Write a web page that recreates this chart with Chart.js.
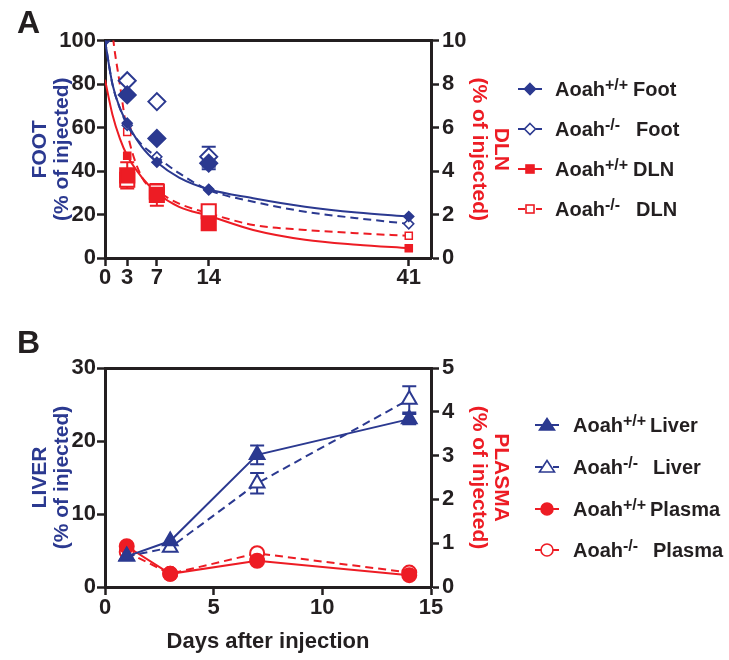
<!DOCTYPE html>
<html>
<head>
<meta charset="utf-8">
<title>Aoah clearance</title>
<script src="https://cdn.jsdelivr.net/npm/chart.js@4.4.1/dist/chart.umd.min.js"></script>
<style>
  body { margin: 0; background: #fff; }
  #page { position: relative; width: 729px; height: 660px; overflow: hidden; font-family: 'Liberation Sans', Arial, sans-serif; color: #231f20; }
  canvas { position: absolute; left: 0; }
  #chartA { top: 0; }
  #chartB { top: 330px; }
  .tag { position: absolute; font-size: 32px; font-weight: bold; line-height: 32px; }
  .row { position: absolute; height: 24px; line-height: 24px; font-size: 20px; font-weight: bold; white-space: nowrap; }
  .row svg { position: absolute; top: 0; }
  .row .txt { position: absolute; top: 0; }
  .row .g { display: inline-block; }
  sup { font-size: 16px; vertical-align: baseline; position: relative; top: -6px; }
</style>
</head>
<body>
<div id="page">
  <canvas id="chartA" width="729" height="300"></canvas>
  <canvas id="chartB" width="729" height="330"></canvas>
  <div class="tag" style="left:17px;top:6px">A</div>
  <div class="tag" style="left:17px;top:326px">B</div>
  <div id="legendA"></div>
  <div id="legendB"></div>
</div>
<script>
// Panel A - foot / DLN, % of injected
const xTicksA = [0, 3, 7, 14, 41];
const meanDaysA = [3, 7, 14];
const fitDaysA = [0, 1, 2, 3, 5, 7, 10, 14, 20, 27, 34, 41];
const fitDaysDlnKo = [0.5, 1, 2, 3, 5, 7, 10, 14, 20, 27, 34, 41];

const footWtFit = [100, 80, 69, 62, 51, 44, 37, 31.6, 27.5, 23.6, 20.9, 19.1];
const footKoFit = [100, 80, 69, 61, 52, 46.5, 39, 31.3, 25.9, 21.3, 18.3, 15.7];
const dlnWtFit = [8.2, 6.6, 5.5, 4.7, 3.7, 3.0, 2.35, 1.94, 1.29, 0.84, 0.61, 0.45];
const dlnKoFit = [12.5, 10.4, 8.0, 5.8, 3.7, 3.1, 2.5, 2.06, 1.52, 1.29, 1.14, 1.02];

const footWtMean = [75, 55, 43.6];
const footWtErr = [0, 0, 2.8];
const footKoMean = [81.5, 71.9, 46.6];
const footKoErr = [0, 0, 4.6];
const dlnWtMean = [3.8, 2.9, 1.6];
const dlnWtErr = [0.6, 0.5, 0.2];
const dlnKoMean = [3.6, 3.05, 2.15];
const dlnKoErr = [0.3, 0.3, 0.1];

// Panel B - liver / plasma
const daysB = [1, 3, 7, 14];
const liverWt = [4.2, 6.3, 18.1, 23.0];
const liverWtErr = [0, 0, 1.3, 0.7];
const liverKo = [4.2, 5.4, 14.2, 25.7];
const liverKoErr = [0, 0, 1.4, 1.8];
const plasmaWt = [0.93, 0.3, 0.6, 0.27];
const plasmaKo = [0.8, 0.3, 0.77, 0.33];

const legendA = [['+/+', 'Foot'], ['-/-', 'Foot'], ['+/+', 'DLN'], ['-/-', 'DLN']];
const legendB = [['+/+', 'Liver'], ['-/-', 'Liver'], ['+/+', 'Plasma'], ['-/-', 'Plasma']];

const blue = '#2b3990';
const red = '#ed1c24';
const ink = '#231f20';

Chart.defaults.font.family = "'Liberation Sans', Arial, sans-serif";

function pts(xs, ys) {
    return xs.map(function (x, i) { return { x: x, y: ys[i] }; });
}

// error bars, drawn behind the markers
const errorBars = {
    id: 'errorBars',
    beforeDatasetsDraw: function (chart) {
        const ctx = chart.ctx;
        chart.data.datasets.forEach(function (ds, i) {
            if (!ds.errors) return;
            const meta = chart.getDatasetMeta(i);
            const ys = chart.scales[ds.yAxisID];
            ctx.save();
            ctx.strokeStyle = ds.borderColor;
            ctx.lineWidth = 2;
            meta.data.forEach(function (pt, j) {
                const e = ds.errors[j];
                if (!e) return;
                const v = ds.data[j].y;
                const t = ys.getPixelForValue(v + e);
                const b = ys.getPixelForValue(v - e);
                ctx.beginPath();
                ctx.moveTo(pt.x, t); ctx.lineTo(pt.x, b);
                ctx.moveTo(pt.x - 7, t); ctx.lineTo(pt.x + 7, t);
                ctx.moveTo(pt.x - 7, b); ctx.lineTo(pt.x + 7, b);
                ctx.stroke();
            });
            ctx.restore();
        });
    }
};

function yAxis(pos, min, max, step, width, title, color, titlePad, labelPad) {
    return {
        type: 'linear', position: pos, min: min, max: max,
        ticks: { stepSize: step, color: ink, padding: labelPad, font: { size: 22, weight: 'bold', lineHeight: 1 } },
        grid: { display: true, drawOnChartArea: false, drawTicks: true, tickLength: 8, tickWidth: 2.5, tickColor: ink },
        border: { display: true, color: ink, width: 3 },
        title: { display: true, text: title, color: color, padding: { top: titlePad, bottom: 0 }, font: { size: 21, weight: 'bold', lineHeight: 1.05 } },
        afterFit: function (s) { s.width = width; }
    };
}

function topFrame() {
    return {
        type: 'linear', position: 'top', min: 0, max: 1,
        ticks: { display: false },
        grid: { display: false },
        border: { display: true, color: ink, width: 3 },
        afterFit: function (s) { s.height = 0; }
    };
}

function fitSet(xs, ys, color, dashed, axis, style, markDays, filled) {
    return {
        data: pts(xs, ys), yAxisID: axis,
        borderColor: color, borderWidth: 2, borderDash: dashed ? [8, 5] : [],
        cubicInterpolationMode: 'monotone', fill: false,
        pointStyle: style,
        pointRadius: function (c) { return markDays.indexOf(xs[c.dataIndex]) >= 0 ? 5 : 0; },
        pointBackgroundColor: filled ? color : '#fff',
        pointBorderColor: color, pointBorderWidth: 1.5
    };
}

function meanSet(xs, ys, errs, color, axis, style, radius, filled) {
    return {
        data: pts(xs, ys), yAxisID: axis, errors: errs,
        showLine: false, borderColor: color,
        pointStyle: style, pointRadius: radius,
        pointBackgroundColor: filled ? color : '#fff',
        pointBorderColor: color, pointBorderWidth: 2
    };
}

function lineSet(xs, ys, errs, color, dashed, axis, style, radius, filled) {
    return {
        data: pts(xs, ys), yAxisID: axis, errors: errs,
        borderColor: color, borderWidth: 2, borderDash: dashed ? [8, 5] : [],
        tension: 0, fill: false,
        pointStyle: style, pointRadius: radius,
        pointBackgroundColor: filled ? color : '#fff',
        pointBorderColor: color, pointBorderWidth: 2
    };
}

function createPanelA() {
    const ctx = document.getElementById('chartA').getContext('2d');
    new Chart(ctx, {
        type: 'line',
        data: {
            datasets: [
                meanSet(meanDaysA, footWtMean, footWtErr, blue, 'y', 'rectRot', 8.5, true),
                meanSet(meanDaysA, footKoMean, footKoErr, blue, 'y', 'rectRot', 8.5, false),
                meanSet(meanDaysA, dlnWtMean, dlnWtErr, red, 'y1', 'rect', 10, true),
                meanSet(meanDaysA, dlnKoMean, dlnKoErr, red, 'y1', 'rect', 10, false),
                fitSet(fitDaysA, footWtFit, blue, false, 'y', 'rectRot', [0, 3, 7, 14, 41], true),
                fitSet(fitDaysA, footKoFit, blue, true, 'y', 'rectRot', [3, 7, 14, 41], false),
                fitSet(fitDaysA, dlnWtFit, red, false, 'y1', 'rect', [3, 7, 14, 41], true),
                fitSet(fitDaysDlnKo, dlnKoFit, red, true, 'y1', 'rect', [3, 7, 14, 41], false)
            ]
        },
        options: {
            responsive: false, animation: false, events: [],
            layout: { padding: { top: 40.5, left: 0, right: 0, bottom: 0 } },
            plugins: { legend: { display: false }, tooltip: { enabled: false } },
            scales: {
                x: {
                    type: 'linear', position: 'bottom', min: 0, max: 44,
                    afterBuildTicks: function (s) { s.ticks = xTicksA.map(function (v) { return { value: v }; }); },
                    ticks: { color: ink, padding: 1, autoSkip: false, maxRotation: 0, font: { size: 22, weight: 'bold', lineHeight: 1 } },
                    grid: { display: true, drawOnChartArea: false, drawTicks: true, tickLength: 8, tickWidth: 2.5, tickColor: ink },
                    border: { display: true, color: ink, width: 3 },
                    afterFit: function (s) { s.height = 42; }
                },
                xt: topFrame(),
                y: yAxis('left', 0, 100, 20, 105, ['FOOT', '(% of injected)'], blue, 29, 1),
                y1: yAxis('right', 0, 10, 2, 298, ['DLN', '(% of injected)'], red, 217, 3)
            }
        },
        plugins: [errorBars]
    });
}

function createPanelB() {
    const ctx = document.getElementById('chartB').getContext('2d');
    new Chart(ctx, {
        type: 'line',
        data: {
            datasets: [
                lineSet(daysB, liverWt, liverWtErr, blue, false, 'y', 'triangle', 8.5, true),
                lineSet(daysB, liverKo, liverKoErr, blue, true, 'y', 'triangle', 8.5, false),
                lineSet(daysB, plasmaWt, null, red, false, 'y1', 'circle', 7, true),
                lineSet(daysB, plasmaKo, null, red, true, 'y1', 'circle', 7, false)
            ]
        },
        options: {
            responsive: false, animation: false, events: [],
            layout: { padding: { top: 38, left: 0, right: 0, bottom: 0 } },
            plugins: { legend: { display: false }, tooltip: { enabled: false } },
            scales: {
                x: {
                    type: 'linear', position: 'bottom', min: 0, max: 15,
                    ticks: { stepSize: 5, color: ink, padding: 2, maxRotation: 0, font: { size: 22, weight: 'bold', lineHeight: 1 } },
                    grid: { display: true, drawOnChartArea: false, drawTicks: true, tickLength: 8, tickWidth: 2.5, tickColor: ink },
                    border: { display: true, color: ink, width: 3 },
                    title: { display: true, text: 'Days after injection', color: ink, padding: { top: 0, bottom: 5 }, font: { size: 22, weight: 'bold', lineHeight: 1.2 } },
                    afterFit: function (s) { s.height = 73; }
                },
                xt: topFrame(),
                y: yAxis('left', 0, 30, 10, 105, ['LIVER', '(% of injected)'], blue, 29, 1),
                y1: yAxis('right', 0, 5, 1, 298, ['PLASMA', '(% of injected)'], red, 217, 3)
            }
        },
        plugins: [errorBars]
    });
}

// legend swatches: line + marker
function swatch(color, dashed, shape, filled) {
    const fill = filled ? color : '#fff';
    let s = '<svg width="28" height="24" viewBox="0 0 28 24" style="left:0">';
    s += '<g stroke="' + color + '" stroke-width="2">';
    if (dashed) {
        s += '<line x1="2" y1="12" x2="9" y2="12"/><line x1="20" y1="12" x2="26" y2="12"/>';
    } else {
        s += '<line x1="2" y1="12" x2="26" y2="12"/>';
    }
    s += '</g><g fill="' + fill + '" stroke="' + color + '" stroke-width="1.6">';
    if (shape === 'diamond') s += '<polygon points="14,6.5 19.5,12 14,17.5 8.5,12"/>';
    if (shape === 'square') s += '<rect x="10" y="8" width="8" height="8"/>';
    if (shape === 'triangle') s += '<polygon points="14,5.5 21.5,17 6.5,17"/>';
    if (shape === 'circle') s += '<circle cx="14" cy="12" r="6"/>';
    s += '</g></svg>';
    return s;
}

function buildLegend(id, labels, shapes, tops, swLeft, txtLeft, gWidths) {
    const box = document.getElementById(id);
    labels.forEach(function (lb, i) {
        const sh = shapes[i];
        const row = document.createElement('div');
        row.className = 'row';
        row.style.left = swLeft + 'px';
        row.style.top = tops[i] + 'px';
        row.innerHTML = swatch(sh[0], sh[1], sh[2], sh[3]) +
            '<span class="txt" style="left:' + (txtLeft - swLeft) + 'px"><span class="g" style="width:' + gWidths[i % 2] + 'px">Aoah<sup>' + lb[0] + '</sup></span>' + lb[1] + '</span>';
        box.appendChild(row);
    });
}

createPanelA();
createPanelB();

buildLegend('legendA', legendA,
    [[blue, false, 'diamond', true], [blue, true, 'diamond', false], [red, false, 'square', true], [red, true, 'square', false]],
    [76.5, 116.5, 156.5, 196.5], 516, 555, [78, 81]);
buildLegend('legendB', legendB,
    [[blue, false, 'triangle', true], [blue, true, 'triangle', false], [red, false, 'circle', true], [red, true, 'circle', false]],
    [413, 454.5, 496.5, 538], 533, 573, [77, 80]);
</script>
</body>
</html>
